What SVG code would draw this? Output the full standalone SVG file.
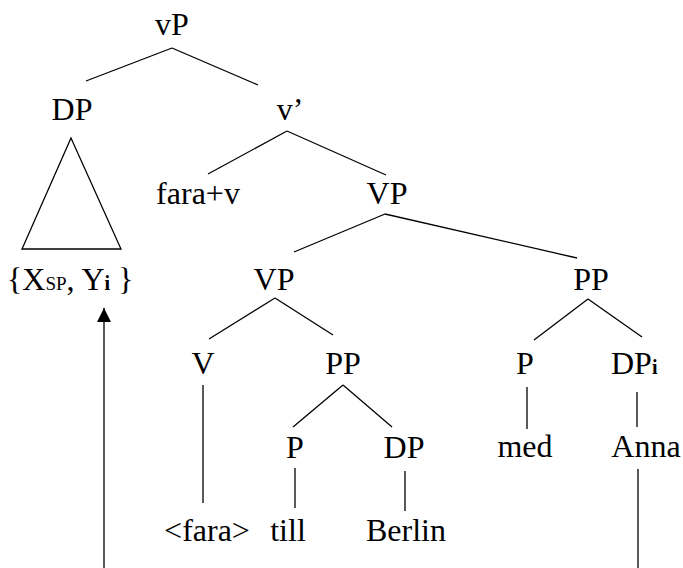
<svg xmlns="http://www.w3.org/2000/svg" width="683" height="568" viewBox="0 0 683 568">
<style>
.n{text-anchor:middle}
line,polygon{stroke:#000;stroke-width:1.3;fill:none}
</style>
<defs>
<marker id="ah" viewBox="0 0 10 10" refX="10" refY="5" markerWidth="15" markerHeight="14" markerUnits="userSpaceOnUse" orient="auto">
<path d="M0,0 L10,5 L0,10 z" fill="#000"/>
</marker>
</defs>
<rect width="683" height="568" fill="#fff"/>
<g font-family="'Liberation Serif', 'Times New Roman', Times, serif" font-size="32" fill="#000">
<g id="n-vP"><text class="n" x="172" y="35">vP</text></g>
<g id="n-DP"><text class="n" x="72" y="120">DP</text></g>
<g id="n-triangle"><polygon points="71,138 22,249 121,249"/></g>
<g id="n-XY"><text x="7" y="290">{X<tspan font-size="19">SP</tspan>, Y<tspan font-size="20" font-weight="bold">i</tspan> }</text></g>
<g id="n-vbar"><text class="n" x="290" y="120">v’</text></g>
<g id="n-farav"><text class="n" x="198" y="204">fara+v</text></g>
<g id="n-VP1"><text class="n" x="387" y="204">VP</text></g>
<g id="n-VP2"><text class="n" x="274" y="290">VP</text></g>
<g id="n-PP1"><text class="n" x="591" y="290">PP</text></g>
<g id="n-V"><text class="n" x="203" y="374">V</text></g>
<g id="n-PP2"><text class="n" x="343" y="374">PP</text></g>
<g id="n-P1"><text class="n" x="525" y="374">P</text></g>
<g id="n-DPi"><text x="611" y="374">DP<tspan font-size="20" font-weight="bold">i</tspan></text></g>
<g id="n-P2"><text class="n" x="295" y="458">P</text></g>
<g id="n-DP2"><text class="n" x="404" y="458">DP</text></g>
<g id="n-med"><text class="n" x="525" y="457">med</text></g>
<g id="n-Anna"><text class="n" x="646" y="457">Anna</text></g>
<g id="n-fara"><text class="n" x="207" y="541">&lt;fara&gt;</text></g>
<g id="n-till"><text class="n" x="288" y="541">till</text></g>
<g id="n-Berlin"><text class="n" x="406" y="541">Berlin</text></g>
</g>
<g id="connectors">
<line x1="172" y1="48" x2="86" y2="81"/>
<line x1="172" y1="48" x2="258" y2="85"/>
<line x1="287" y1="131" x2="208" y2="174"/>
<line x1="287" y1="131" x2="386" y2="175"/>
<line x1="385" y1="214" x2="294" y2="252"/>
<line x1="385" y1="214" x2="577" y2="258"/>
<line x1="275" y1="298" x2="209" y2="339"/>
<line x1="275" y1="298" x2="333" y2="335"/>
<line x1="588" y1="299" x2="534" y2="340"/>
<line x1="588" y1="299" x2="642" y2="337"/>
<line x1="343" y1="385" x2="293" y2="427"/>
<line x1="343" y1="385" x2="392" y2="427"/>
<line x1="203" y1="385" x2="203" y2="503"/>
<line x1="527" y1="387" x2="527" y2="429"/>
<line x1="637" y1="392" x2="637" y2="427"/>
<line x1="295" y1="468" x2="295" y2="508"/>
<line x1="405" y1="471" x2="405" y2="511"/>
<line x1="638" y1="469" x2="638" y2="568"/>
<line x1="104" y1="568" x2="104" y2="308" marker-end="url(#ah)"/>
</g>
</svg>
